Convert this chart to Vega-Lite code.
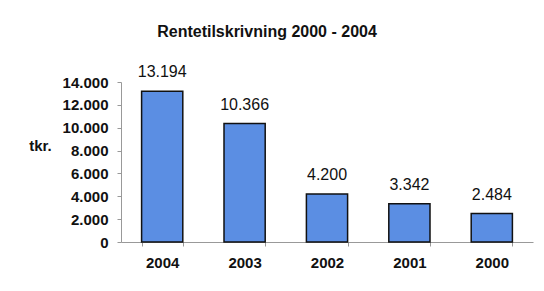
{
  "$schema": "https://vega.github.io/schema/vega-lite/v6.json",
  "autosize": "none",
  "width": 412,
  "height": 160,
  "padding": {"left": 121, "top": 82, "right": 11, "bottom": 49},
  "background": "white",
  "config": {
    "font": "Liberation Sans",
    "view": {"stroke": null},
    "locale": {"number": {"decimal": ",", "thousands": ".", "grouping": [3], "currency": ["", " kr."]}}
  },
  "title": {
    "text": "Rentetilskrivning 2000 - 2004",
    "font": "Liberation Sans",
    "fontSize": 16,
    "fontWeight": "bold",
    "color": "#111",
    "anchor": "middle",
    "dx": -60,
    "offset": 24
  },
  "data": {
    "values": [
      {"year": "2004", "value": 13194},
      {"year": "2003", "value": 10366},
      {"year": "2002", "value": 4200},
      {"year": "2001", "value": 3342},
      {"year": "2000", "value": 2484}
    ]
  },
  "encoding": {
    "x": {
      "field": "year",
      "type": "nominal",
      "sort": null,
      "scale": {"paddingInner": 0.5, "paddingOuter": 0.25},
      "axis": {
        "title": null,
        "labelAngle": 0,
        "labelFontSize": 15,
        "labelFontWeight": "bold",
        "labelColor": "#111",
        "labelPadding": 9,
        "tickBand": "extent",
        "tickSize": 4,
        "tickColor": "#999",
        "domainColor": "#999"
      }
    },
    "y": {
      "field": "value",
      "type": "quantitative",
      "scale": {"domain": [0, 14000]},
      "axis": {
        "title": "tkr.",
        "titleAngle": 0,
        "titleX": -81,
        "titleY": 63,
        "titleAlign": "center",
        "titleBaseline": "middle",
        "titleFontSize": 15,
        "titleFontWeight": "bold",
        "titleColor": "#111",
        "values": [0, 2000, 4000, 6000, 8000, 10000, 12000, 14000],
        "format": ",d",
        "grid": false,
        "labelFontSize": 15,
        "labelFontWeight": "bold",
        "labelColor": "#111",
        "labelPadding": 9,
        "tickSize": 4,
        "tickColor": "#999",
        "domainColor": "#999"
      }
    }
  },
  "layer": [
    {
      "mark": {"type": "bar", "color": "#5b8ee3", "stroke": "#111", "strokeWidth": 1.5}
    },
    {
      "mark": {"type": "text", "dy": -11, "fontSize": 16, "color": "#111", "baseline": "bottom"},
      "encoding": {"text": {"field": "value", "type": "quantitative", "format": ",d"}}
    }
  ]
}
